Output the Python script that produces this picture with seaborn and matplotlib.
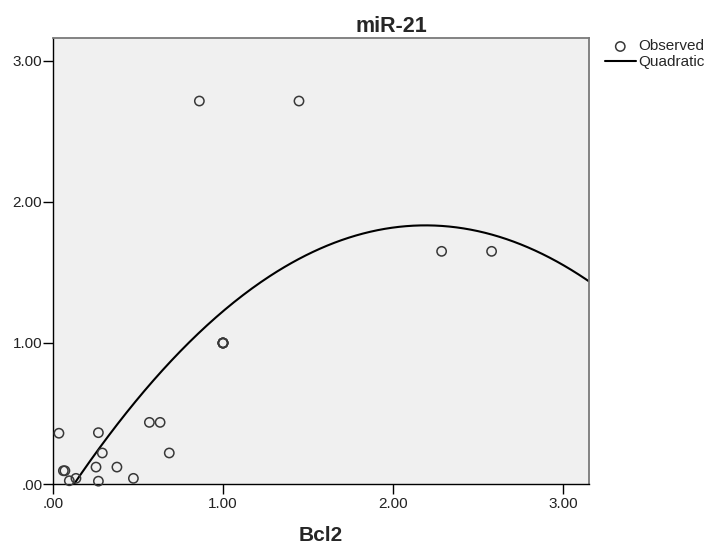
import numpy as np
import pandas as pd
import seaborn as sns
import matplotlib.pyplot as plt

# values (five cases sit on top of each other at 1.00, 1.00)
bcl2 = [0.035, 0.267, 0.061, 0.070, 0.096, 0.135, 0.290, 0.253, 0.267, 0.376,
        0.473, 0.567, 0.630, 0.684, 1.00, 1.00, 1.00, 1.00, 1.00,
        0.861, 1.447, 2.286, 2.580]
mir21 = [0.360, 0.364, 0.094, 0.094, 0.023, 0.040, 0.220, 0.120, 0.020, 0.120,
         0.040, 0.437, 0.437, 0.220, 1.00, 1.00, 1.00, 1.00, 1.00,
         2.716, 2.716, 1.650, 1.650]
tick_vals = [0, 1, 2, 3]
tick_labels = [".00", "1.00", "2.00", "3.00"]

df = pd.DataFrame({"Bcl2": bcl2, "miR-21": mir21})

# quadratic fit, as in the SPSS curve estimation
coef = np.polyfit(df["Bcl2"], df["miR-21"], 2)
xlim = (0.0, 3.153)
ylim = (0.0, 3.163)
grid = np.linspace(xlim[0], xlim[1], 300)
fit = pd.DataFrame({"x": grid, "y": np.polyval(coef, grid)})

sns.set_theme(style="white")
plt.rcParams["font.family"] = ["Liberation Sans", "DejaVu Sans"]

fig = plt.figure(figsize=(7.1, 5.46), dpi=100)
ax = fig.add_axes([53 / 710, 1 - 484 / 546, 536 / 710, 446 / 546])
ax.set_facecolor("#f0f0f0")

sns.lineplot(data=fit, x="x", y="y", ax=ax, color="black", linewidth=1.5,
             label="Quadratic", zorder=2)
sns.scatterplot(data=df, x="Bcl2", y="miR-21", ax=ax, facecolors="none",
                edgecolor="#383838", linewidth=1.1, s=45, label="Observed",
                zorder=3, clip_on=False)

ax.set_xlim(xlim)
ax.set_ylim(ylim)
ax.set_xticks(tick_vals)
ax.set_xticklabels(tick_labels)
ax.set_yticks(tick_vals)
ax.set_yticklabels(tick_labels)
ax.tick_params(axis="both", bottom=True, left=True, direction="out",
               length=7.2, width=1, color="black", labelsize=11,
               labelcolor="#222222", pad=0.5)
ax.tick_params(axis="x", pad=2)

for side in ["left", "bottom"]:
    ax.spines[side].set_color("black")
    ax.spines[side].set_linewidth(1.0)
for side in ["top", "right"]:
    ax.spines[side].set_color("#7a7a7a")
    ax.spines[side].set_linewidth(1.3)

ax.set_title("miR-21", fontsize=15.5, fontweight="bold", x=0.632, pad=4.5)
ax.set_xlabel("Bcl2", fontsize=15, fontweight="bold", labelpad=11)
ax.set_ylabel("")

handles, labels = ax.get_legend_handles_labels()
order = [labels.index("Observed"), labels.index("Quadratic")]
ax.legend([handles[i] for i in order], [labels[i] for i in order],
          loc="upper left", bbox_to_anchor=(605 / 710, 1 - 39.5 / 546),
          bbox_transform=fig.transFigure, frameon=False, fontsize=11,
          handlelength=2.0, handletextpad=0.15, labelspacing=0.12,
          borderpad=0, borderaxespad=0)

fig.savefig("out.png", dpi=100)
